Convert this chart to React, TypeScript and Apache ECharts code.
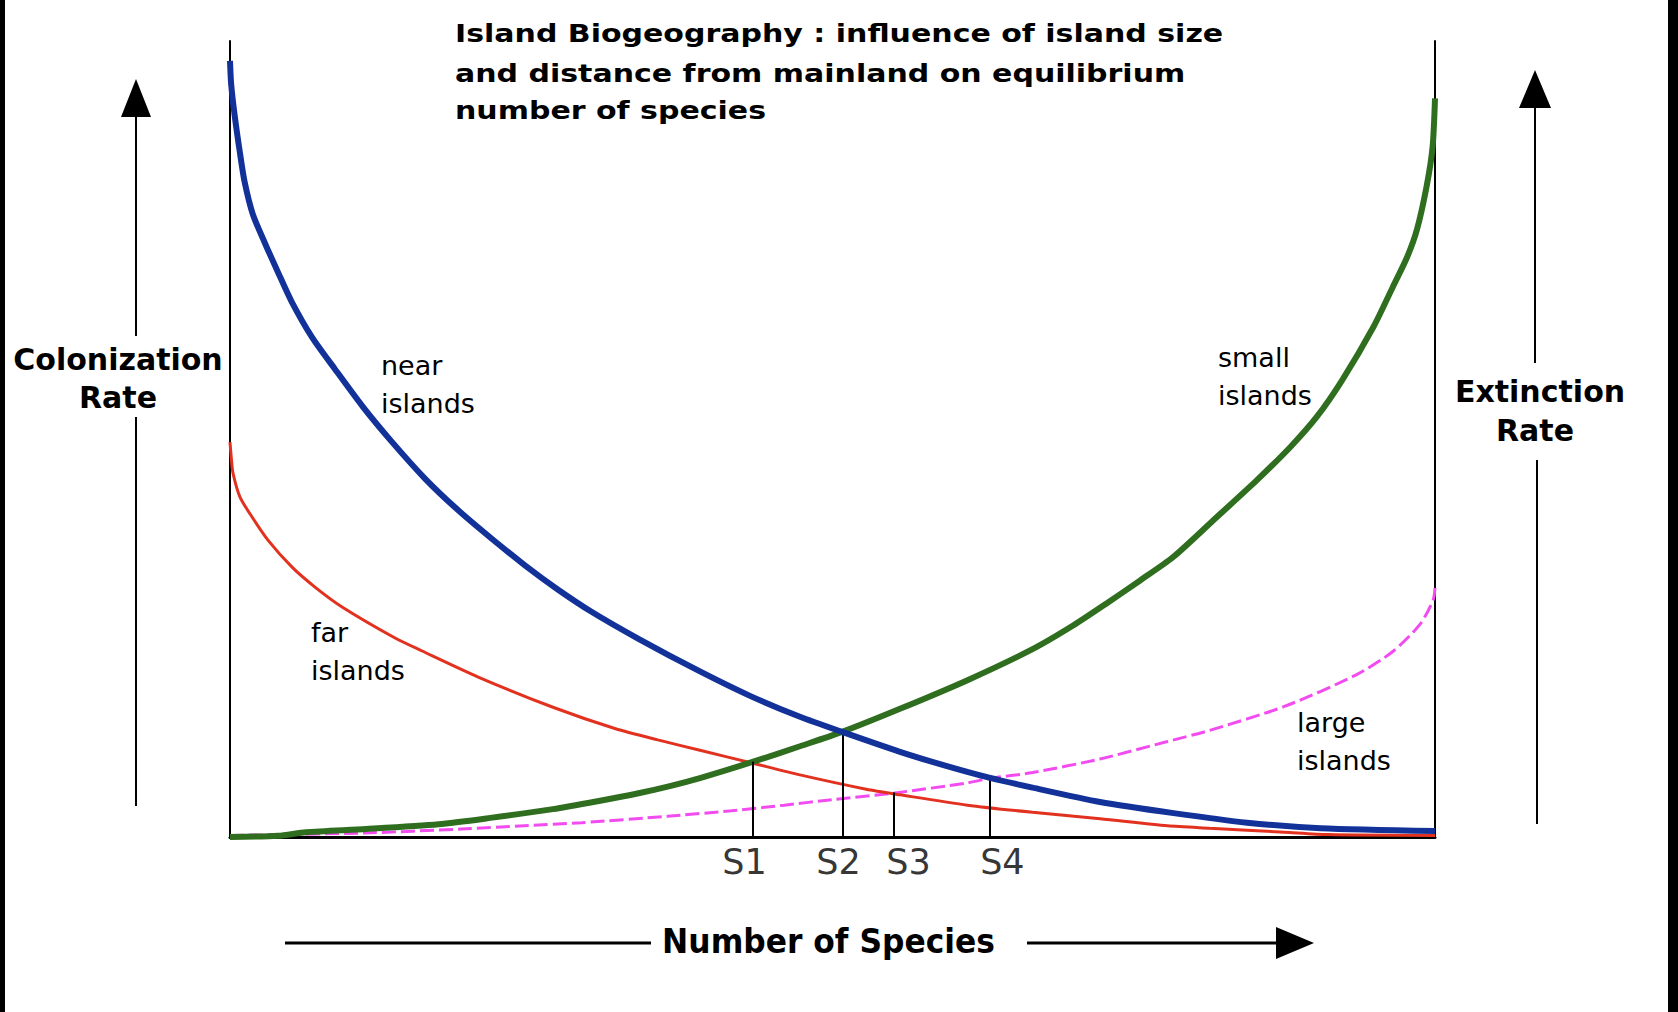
import React, { useEffect, useRef } from 'react';
import * as echarts from 'echarts';

// Colonization rates (x = number of species, 0..100 ; y = rate, 0..100)
const nearIslands: [number, number][] = [
  [0, 97.5], [0.1, 94.5], [0.4, 90.5], [0.8, 86.2], [1.2, 82.4], [1.9, 78.2], [2.9, 74.6],
  [4.0, 70.9], [5.1, 67.3], [6.8, 62.8], [8.7, 58.8], [11.0, 54.1], [13.4, 49.7], [16.2, 45.0],
  [18.9, 41.1], [21.7, 37.5], [24.5, 34.1], [27.2, 31.1], [30.0, 28.3], [33.9, 24.9], [39.0, 20.8],
  [43.2, 17.7], [47.3, 15.1], [50.8, 13.2], [55.6, 10.7], [59.5, 8.9], [63.0, 7.45], [66.6, 6.2],
  [72.2, 4.4], [78.3, 3.0], [84.4, 1.8], [90.5, 1.1], [100, 0.75],
];
const farIslands: [number, number][] = [
  [0, 49.6], [0.12, 47.4], [0.25, 45.7], [0.83, 42.7], [1.83, 40.2], [3.15, 37.3], [5.15, 33.9],
  [7.05, 31.4], [9.3, 28.9], [13.7, 25.0], [15.9, 23.4], [20.6, 20.1], [26.8, 16.3], [32.0, 13.6],
  [35.5, 12.2], [39.0, 10.9], [43.3, 9.3], [47.3, 7.8], [52.8, 6.0], [55.6, 5.3], [61.2, 4.0],
  [66.6, 3.1], [72.2, 2.3], [77.8, 1.4], [81.3, 1.1], [87.5, 0.6], [91.1, 0.3], [100, 0.2],
];
// Extinction rates
const smallIslands: [number, number][] = [
  [0, 0], [4, 0.15], [6.3, 0.6], [11.3, 1.0], [17.3, 1.6], [21.6, 2.4], [26.8, 3.5], [30.5, 4.5],
  [33.9, 5.5], [36.5, 6.4], [39.0, 7.4], [43.3, 9.4], [47.3, 11.4], [50.8, 13.2], [55.6, 16.1],
  [61.2, 19.7], [66.6, 23.6], [70.0, 26.6], [72.8, 29.4], [75.5, 32.2], [78.3, 35.2], [81.9, 40.2],
  [85.2, 44.8], [88.0, 49.0], [90.2, 52.8], [92.3, 57.4], [94.9, 64.1], [96.5, 69.1], [97.7, 72.9],
  [98.5, 76.3], [99.3, 81.7], [99.8, 86.7], [100, 92.8],
];
const largeIslands: [number, number][] = [
  [0, 0.2], [11.1, 0.5], [19.2, 1.0], [24.4, 1.4], [29.2, 1.8], [36.3, 2.6], [41.6, 3.3], [46.0, 4.0],
  [50.0, 4.7], [55.0, 5.5], [61.2, 6.8], [63.0, 7.35], [66.6, 8.1], [72.2, 9.8], [77.8, 12.0],
  [81.3, 13.4], [87.5, 16.4], [93.5, 20.4], [96.5, 23.3], [98.8, 26.8], [99.85, 29.8], [100, 31.3],
];

// Equilibrium points
const equilibriumNames = ['S1', 'S2', 'S3', 'S4'];
const equilibriumX = [43.35, 50.81, 55.07, 63.02];
const equilibriumY = [9.46, 13.2, 5.6, 7.5];
const equilibriumLabelX = [42.7, 50.5, 56.3, 64.1];

const titleLines = [
  'Island Biogeography : influence of island size',
  'and distance from mainland on equilibrium',
  'number of species',
];

const BLUE = '#12329a';
const RED = '#e2321f';
const GREEN = '#2f6e1f';
const PINK = '#f24cf0';

export default function App() {
  const ref = useRef<HTMLDivElement>(null);

  useEffect(() => {
    if (!ref.current) return;
    const chart = echarts.init(ref.current, undefined, { renderer: 'svg' });

    const hiddenAxis = {
      axisTick: { show: false },
      axisLabel: { show: false },
      splitLine: { show: false },
    };

    const titleFont = 'bold 25px "DejaVu Sans"';
    const labelFont = '27px "DejaVu Sans"';
    const sideFont = 'bold 30px "DejaVu Sans"';

    const txt = (text: string, x: number, y: number, font: string, align = 'left', scaleX = 1) => ({
      type: 'text',
      x,
      y,
      scaleX,
      silent: true,
      style: { text, font, fill: '#000', align, verticalAlign: 'middle' },
    });
    const ln = (x1: number, y1: number, x2: number, y2: number, w: number) => ({
      type: 'line',
      silent: true,
      shape: { x1, y1, x2, y2 },
      style: { stroke: '#000', lineWidth: w },
    });

    const option: any = {
      animation: false,
      backgroundColor: '#ffffff',
      grid: { left: 230, top: 41, width: 1205, height: 796 },
      xAxis: {
        type: 'value',
        min: 0,
        max: 100,
        axisLine: { show: true, onZero: false, lineStyle: { color: '#000', width: 3 } },
        ...hiddenAxis,
      },
      yAxis: [
        {
          type: 'value', min: 0, max: 100, position: 'left',
          axisLine: { show: true, onZero: false, lineStyle: { color: '#000', width: 2 } },
          ...hiddenAxis,
        },
        {
          type: 'value', min: 0, max: 100, position: 'right',
          axisLine: { show: true, onZero: false, lineStyle: { color: '#000', width: 2 } },
          ...hiddenAxis,
        },
      ],
      series: [
        {
          name: 'large islands', type: 'line', yAxisIndex: 1, data: largeIslands, symbol: 'none',
          smooth: 0.25,
          lineStyle: { color: PINK, width: 3, type: [14, 5] }, z: 2,
        },
        {
          name: 'far islands', type: 'line', data: farIslands, symbol: 'none',
          smooth: 0.25,
          lineStyle: { color: RED, width: 3 }, z: 3,
        },
        {
          name: 'small islands', type: 'line', yAxisIndex: 1, data: smallIslands, symbol: 'none',
          smooth: 0.25,
          lineStyle: { color: GREEN, width: 6 }, z: 4,
        },
        {
          name: 'near islands', type: 'line', data: nearIslands, symbol: 'none',
          smooth: 0.25,
          lineStyle: { color: BLUE, width: 6 }, z: 5,
        },
        {
          name: 'equilibrium', type: 'scatter', z: 6,
          symbol: 'circle', symbolSize: 1,
          itemStyle: { color: 'transparent' },
          data: equilibriumNames.map((n, i) => ({ name: n, value: [equilibriumLabelX[i], 0] })),
          label: {
            show: true,
            position: 'inside',
            offset: [0, 25],
            formatter: '{b}',
            color: '#000',
            fontFamily: 'DejaVu Sans',
            fontSize: 35,
            align: 'center',
            verticalAlign: 'middle',
          },
          markLine: {
            silent: true,
            symbol: ['none', 'none'],
            label: { show: false },
            lineStyle: { type: 'solid', color: '#000', width: 2 },
            data: equilibriumX.map((x, i) => [
              { coord: [x, 0] },
              { coord: [x, equilibriumY[i]] },
            ]),
          },
        },
      ],
      graphic: [
        // image frame edges
        { type: 'rect', silent: true, shape: { x: 0, y: 0, width: 5, height: 1012 }, style: { fill: '#000' } },
        { type: 'rect', silent: true, shape: { x: 1668, y: 0, width: 10, height: 1012 }, style: { fill: '#000' } },
        // title
        txt(titleLines[0], 455, 33.4, titleFont, 'left', 1.2),
        txt(titleLines[1], 455, 73.3, titleFont, 'left', 1.2),
        txt(titleLines[2], 455, 110.8, titleFont, 'left', 1.2),
        // curve labels
        txt('near', 381, 365.7, labelFont),
        txt('islands', 381, 403.7, labelFont),
        txt('far', 311, 632.7, labelFont),
        txt('islands', 311, 670.7, labelFont),
        txt('small', 1218, 357.7, labelFont),
        txt('islands', 1218, 395.7, labelFont),
        txt('large', 1297, 722.7, labelFont),
        txt('islands', 1297, 760.7, labelFont),
        // colonization axis arrow
        { type: 'polygon', silent: true, shape: { points: [[136, 79], [121, 117], [151, 117]] }, style: { fill: '#000' } },
        ln(136, 116, 136, 336, 2),
        ln(136, 417, 136, 806, 2),
        txt('Colonization', 118, 359.5, sideFont, 'center'),
        txt('Rate', 118, 397, sideFont, 'center'),
        // extinction axis arrow
        { type: 'polygon', silent: true, shape: { points: [[1535, 70], [1519, 108], [1551, 108]] }, style: { fill: '#000' } },
        ln(1535, 107, 1535, 363, 2),
        ln(1537, 460, 1537, 824, 2),
        txt('Extinction', 1540, 391, sideFont, 'center'),
        txt('Rate', 1535, 430.5, sideFont, 'center'),
        // number of species arrow
        ln(285, 943, 651, 943, 3),
        ln(1027, 943, 1278, 943, 3),
        { type: 'polygon', silent: true, shape: { points: [[1276, 927], [1314, 943], [1276, 959]] }, style: { fill: '#000' } },
        txt('Number of Species', 828.5, 941.5, 'bold 33px "DejaVu Sans"', 'center', 0.95),
      ],
    };

    chart.setOption(option);
    return () => chart.dispose();
  }, []);

  return (
    <div
      ref={ref}
      style={{ position: 'absolute', left: 0, top: 0, width: 1678, height: 1012, background: '#fff' }}
    />
  );
}
